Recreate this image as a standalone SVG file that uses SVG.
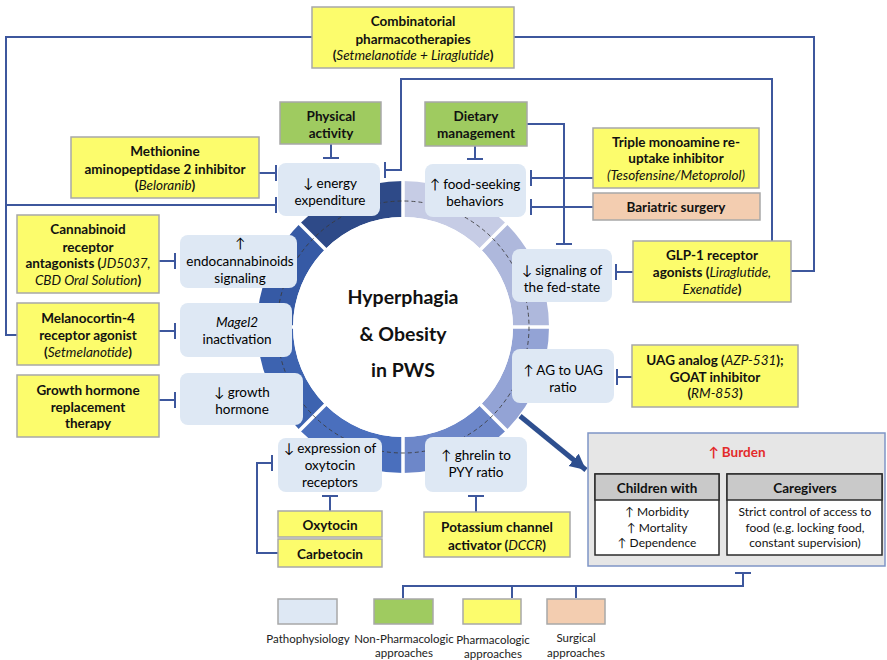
<svg xmlns="http://www.w3.org/2000/svg" width="887" height="660" viewBox="0 0 887 660">
<defs>
<style>
text{font-family:Lato,"Liberation Sans",sans-serif;text-anchor:middle;dominant-baseline:central;fill:#111}
.b{font-weight:bold;font-size:13.5px}
.p{font-size:13.5px;fill:#000}
.s{font-size:12px}
.l{font-size:11.5px;fill:#222}
.i{font-style:italic;font-weight:normal}
.ctr{font-weight:bold;font-size:19.5px}
.pat{fill:#dee8f4}
.yel{fill:#fcfc6c;stroke:#a8a8a8;stroke-width:1.5}
.grn{fill:#9fcb60;stroke:#a8a8a8;stroke-width:1.5}
.sur{fill:#f3cdb0;stroke:#a8a8a8;stroke-width:1.5}
.con{fill:none;stroke:#3d579d;stroke-width:2}
.sep{stroke:#fff;stroke-width:3.5}
</style>
<marker id="ah" markerUnits="userSpaceOnUse" markerWidth="20" markerHeight="20" refX="16" refY="8" orient="auto">
<path d="M0,0 L16,8 L0,16 Z" fill="#2e4f8f"/>
</marker>
</defs>
<rect width="887" height="660" fill="#fff"/>

<g id="ring">
<path d="M403,181 A146,146 0 0 1 506.24,223.76 L480.78,249.22 A110,110 0 0 0 403,217 Z" fill="#c6cce5"/>
<path d="M506.24,223.76 A146,146 0 0 1 549,327 L513,327 A110,110 0 0 0 480.78,249.22 Z" fill="#aeb8dc"/>
<path d="M549,327 A146,146 0 0 1 506.24,430.24 L480.78,404.78 A110,110 0 0 0 513,327 Z" fill="#93a3d5"/>
<path d="M506.24,430.24 A146,146 0 0 1 403,473 L403,437 A110,110 0 0 0 480.78,404.78 Z" fill="#6d87c9"/>
<path d="M403,473 A146,146 0 0 1 299.76,430.24 L325.22,404.78 A110,110 0 0 0 403,437 Z" fill="#4a6fbd"/>
<path d="M299.76,430.24 A146,146 0 0 1 257,327 L293,327 A110,110 0 0 0 325.22,404.78 Z" fill="#3d63b0"/>
<path d="M257,327 A146,146 0 0 1 299.76,223.76 L325.22,249.22 A110,110 0 0 0 293,327 Z" fill="#365aa5"/>
<path d="M299.76,223.76 A146,146 0 0 1 403,181 L403,217 A110,110 0 0 0 325.22,249.22 Z" fill="#2e4a88"/>
<path class="sep" d="M403,176 V478 M252,327 H554 M296.3,220.3 L509.7,433.7 M509.7,220.3 L296.3,433.7"/>
<circle cx="403" cy="327" r="110" fill="#fff"/>
<circle cx="403" cy="327" r="126" fill="none" stroke="#3a3a3a" stroke-width="1" stroke-dasharray="4 3" opacity="0.85"/>
</g>

<g id="center">
<text class="ctr" x="403" y="296">Hyperphagia</text>
<text class="ctr" x="403" y="333">&amp; Obesity</text>
<text class="ctr" x="403" y="369">in PWS</text>
</g>

<g id="connectors">
<path class="con" d="M331,144 V158 M323,158 H339"/>
<path class="con" d="M259,173 H276 M276,165 V181"/>
<path class="con" d="M312,37 H6 V335 H17 M6,205 H276 M276,197 V213"/>
<path class="con" d="M772,241 V79 H401 V170 H385 M385,162 V178"/>
<path class="con" d="M514,37 H814 V271 H791"/>
<path class="con" d="M475,146 V159 M467,159 H483"/>
<path class="con" d="M527,124 H564 V244 M556,244 H572"/>
<path class="con" d="M593,178 H531 M531,170 V186"/>
<path class="con" d="M593,207 H531 M531,199 V215"/>
<path class="con" d="M633,272 H616 M616,264 V280"/>
<path class="con" d="M159,261 H175 M175,253 V269"/>
<path class="con" d="M159,331 H175 M175,323 V339"/>
<path class="con" d="M159,400 H175 M175,392 V408"/>
<path class="con" d="M632,377 H617 M617,369 V385"/>
<path class="con" d="M330,511 V496 M322,496 H338"/>
<path class="con" d="M278,553 H257 V463 H272 M272,455 V471"/>
<path class="con" d="M476,512 V496 M468,496 H484"/>
<path class="con" d="M403,598 V586 H743 V573 M735,573 H751 M512,586 V598 M576,586 V598"/>
<path d="M520,416 L586,470" fill="none" stroke="#2e4f8f" stroke-width="5" marker-end="url(#ah)"/>
</g>

<g id="n-energy"><rect class="pat" x="278" y="163" width="102" height="53" rx="8"/>
<text class="p" x="330" y="183">↓ energy</text><text class="p" x="330" y="200">expenditure</text></g>
<g id="n-food"><rect class="pat" x="425" y="164" width="101" height="53" rx="8"/>
<text class="p" x="475" y="184">↑ food-seeking</text><text class="p" x="475" y="201">behaviors</text></g>
<g id="n-fed"><rect class="pat" x="512" y="249" width="100" height="53" rx="8"/>
<text class="p" x="562" y="270">↓ signaling of</text><text class="p" x="562" y="287">the fed-state</text></g>
<g id="n-ag"><rect class="pat" x="512" y="349" width="102" height="54" rx="8"/>
<text class="p" x="563" y="370">↑ AG to UAG</text><text class="p" x="563" y="387">ratio</text></g>
<g id="n-ghrelin"><rect class="pat" x="425" y="437" width="102" height="55" rx="8"/>
<text class="p" x="476" y="455">↑ ghrelin to</text><text class="p" x="476" y="472">PYY ratio</text></g>
<g id="n-oxyrec"><rect class="pat" x="278" y="438" width="104" height="54" rx="8"/>
<text class="p" x="330" y="448">↓ expression of</text><text class="p" x="330" y="465">oxytocin</text><text class="p" x="330" y="482">receptors</text></g>
<g id="n-gh"><rect class="pat" x="180" y="373" width="123" height="52" rx="8"/>
<text class="p" x="242" y="392">↓ growth</text><text class="p" x="242" y="409">hormone</text></g>
<g id="n-magel"><rect class="pat" x="180" y="303" width="112" height="54" rx="8"/>
<text class="p" x="237" y="322" font-style="italic">Magel2</text><text class="p" x="237" y="339">inactivation</text></g>
<g id="n-endo"><rect class="pat" x="180" y="235" width="117" height="53" rx="8"/>
<text class="p" x="240" y="243">↑</text><text class="p" x="240" y="261">endocannabinoids</text><text class="p" x="240" y="278">signaling</text></g>

<g id="n-physical"><rect class="grn" x="280" y="102" width="101" height="42"/>
<text class="b" x="331" y="116">Physical</text><text class="b" x="331" y="133">activity</text></g>
<g id="n-dietary"><rect class="grn" x="425" y="102" width="102" height="44"/>
<text class="b" x="476" y="116">Dietary</text><text class="b" x="476" y="133">management</text></g>

<g id="n-combi"><rect class="yel" x="312" y="7" width="202" height="61"/>
<text class="b" x="413" y="21">Combinatorial</text><text class="b" x="413" y="39">pharmacotherapies</text>
<text class="b" x="413" y="55">(<tspan class="i">Setmelanotide + Liraglutide</tspan>)</text></g>
<g id="n-metap"><rect class="yel" x="71" y="137" width="188" height="61"/>
<text class="b" x="165" y="151">Methionine</text><text class="b" x="165" y="169">aminopeptidase 2 inhibitor</text>
<text class="b" x="165" y="185">(<tspan class="i">Beloranib</tspan>)</text></g>
<g id="n-triple"><rect class="yel" x="593" y="128" width="166" height="60"/>
<text class="b" x="676" y="142">Triple monoamine re-</text><text class="b" x="676" y="158">uptake inhibitor</text>
<text class="b i" x="676" y="175">(Tesofensine/Metoprolol)</text></g>
<g id="n-bariatric"><rect class="sur" x="593" y="193" width="167" height="27"/>
<text class="b" x="676" y="207">Bariatric surgery</text></g>
<g id="n-glp1"><rect class="yel" x="633" y="241" width="158" height="61"/>
<text class="b" x="712" y="255">GLP-1 receptor</text>
<text class="b" x="712" y="272">agonists (<tspan class="i">Liraglutide,</tspan></text>
<text class="b" x="712" y="289"><tspan class="i">Exenatide</tspan>)</text></g>
<g id="n-cannab"><rect class="yel" x="17" y="215" width="142" height="78"/>
<text class="b" x="88" y="229">Cannabinoid</text><text class="b" x="88" y="247">receptor</text>
<text class="b" x="88" y="263">antagonists (<tspan class="i">JD5037,</tspan></text>
<text class="b" x="88" y="280"><tspan class="i">CBD Oral Solution</tspan>)</text></g>
<g id="n-mc4"><rect class="yel" x="17" y="303" width="142" height="62"/>
<text class="b" x="88" y="318">Melanocortin-4</text><text class="b" x="88" y="335">receptor agonist</text>
<text class="b" x="88" y="352">(<tspan class="i">Setmelanotide</tspan>)</text></g>
<g id="n-ghrt"><rect class="yel" x="17" y="375" width="142" height="62"/>
<text class="b" x="88" y="390">Growth hormone</text><text class="b" x="88" y="407">replacement</text>
<text class="b" x="88" y="423">therapy</text></g>
<g id="n-uag"><rect class="yel" x="632" y="345" width="166" height="62"/>
<text class="b" x="715" y="360">UAG analog (<tspan class="i">AZP-531</tspan>);</text>
<text class="b" x="715" y="377">GOAT inhibitor</text>
<text class="b" x="715" y="393">(<tspan class="i">RM-853</tspan>)</text></g>
<g id="n-oxytocin"><rect class="yel" x="278" y="511" width="104" height="26"/>
<text class="b" x="330" y="525">Oxytocin</text></g>
<g id="n-carbetocin"><rect class="yel" x="278" y="539" width="104" height="28"/>
<text class="b" x="330" y="554">Carbetocin</text></g>
<g id="n-potassium"><rect class="yel" x="424" y="512" width="146" height="45"/>
<text class="b" x="497" y="527">Potassium channel</text>
<text class="b" x="497" y="545">activator (<tspan class="i">DCCR</tspan>)</text></g>

<g id="n-burden">
<rect x="588" y="433" width="297" height="133" fill="#e6e6e6" stroke="#7f95c6" stroke-width="1.5"/>
<text class="b" x="737" y="452" style="fill:#e32b2b">↑ Burden</text>
<rect x="595" y="474" width="124" height="81" fill="#fff" stroke="#2b2b2b" stroke-width="1.5"/>
<rect x="595" y="474" width="124" height="26" fill="#c9c9c9" stroke="#2b2b2b" stroke-width="1.5"/>
<text class="b" x="657" y="488">Children with</text>
<text class="s" x="657" y="511">↑ Morbidity</text>
<text class="s" x="657" y="527">↑ Mortality</text>
<text class="s" x="657" y="542">↑ Dependence</text>
<rect x="727" y="474" width="155" height="81" fill="#fff" stroke="#2b2b2b" stroke-width="1.5"/>
<rect x="727" y="474" width="155" height="26" fill="#c9c9c9" stroke="#2b2b2b" stroke-width="1.5"/>
<text class="b" x="805" y="488">Caregivers</text>
<text class="s" x="805" y="511">Strict control of access to</text>
<text class="s" x="805" y="527">food (e.g. locking food,</text>
<text class="s" x="805" y="542">constant supervision)</text>
</g>

<g id="legend">
<rect x="278" y="599" width="59" height="25" fill="#dee8f4" stroke="#a8a8a8" stroke-width="1.5"/>
<rect x="374" y="599" width="59" height="25" class="grn"/>
<rect x="463" y="599" width="58" height="25" class="yel"/>
<rect x="547" y="599" width="58" height="25" class="sur"/>
<text class="l" x="308" y="638">Pathophysiology</text>
<text class="l" x="404" y="638">Non-Pharmacologic</text>
<text class="l" x="404" y="652">approaches</text>
<text class="l" x="493" y="639">Pharmacologic</text>
<text class="l" x="493" y="653">approaches</text>
<text class="l" x="576" y="637">Surgical</text>
<text class="l" x="576" y="652">approaches</text>
</g>
</svg>
